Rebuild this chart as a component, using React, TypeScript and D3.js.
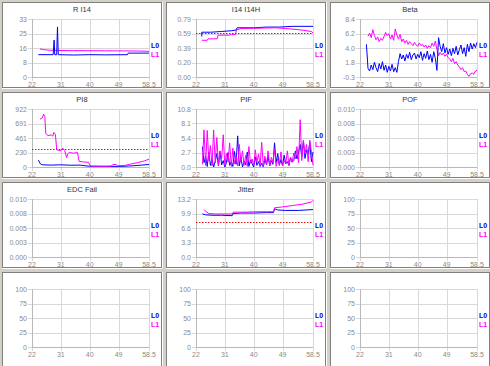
import React from "react";
import * as d3 from "d3";

// shared x axis
const xTicks = [22, 31, 40, 49, 58.5];
const xTickLabels = ["22", "31", "40", "49", "58.5"];

// R I14
const riL0X = [24, 28.6, 28.9, 29.1, 29.7, 29.95, 30.2, 35, 40, 45, 51.8, 52, 58.5];
const riL0Y = [12.7, 12.7, 21, 12.7, 12.7, 28.5, 12.7, 12.5, 12.7, 12.6, 12.7, 13.6, 13.6];
const riL1X = [24.5, 25.5, 27, 30, 35, 45, 55, 58.5];
const riL1Y = [16.0, 15.6, 15.3, 15.1, 15.0, 14.9, 14.8, 14.6];
const riTicks = ["0", "8", "16", "25", "33"];

// I14 I14H
const i14L0X = [23.8, 23.8, 26.6, 30, 33, 34.5, 34.8, 40, 44, 48, 52, 58.5];
const i14L0Y = [0.55, 0.61, 0.61, 0.62, 0.63, 0.64, 0.67, 0.67, 0.68, 0.68, 0.69, 0.69];
const i14L1X = [23.8, 25.5, 25.8, 28.6, 28.9, 32.5, 33, 34.3, 34.6, 36, 47, 50, 55, 58, 58.5];
const i14L1Y = [0.50, 0.50, 0.52, 0.52, 0.57, 0.57, 0.58, 0.58, 0.64, 0.66, 0.67, 0.66, 0.64, 0.62, 0.60];
const i14Limit = 0.6;
const i14Ticks = ["0.00", "0.20", "0.39", "0.59", "0.79"];

// Beta
const betaL0X = d3.range(24, 58.75, 0.5);
const betaL0Y = [
  4.6, 1.0, 0.6, 1.5, 0.8, 1.9, 1.1, 0.5, 1.7, 0.9,
  2.0, 0.7, 1.5, 0.4, 1.3, 0.6, 1.6, 0.5, 1.1, 0.4,
  2.0, 3.2, 2.4, 3.0, 2.1, 3.1, 2.5, 3.4, 2.3, 3.0,
  3.3, 2.4, 3.1, 2.6, 3.5, 2.2, 3.2, 2.5, 3.6, 2.3,
  3.1, 1.9, 3.5, 2.5, 0.7, 5.6, 4.3, 3.5, 4.7, 3.3,
  4.1, 3.1, 3.9, 2.9, 4.0, 3.2, 4.3, 3.0, 3.8, 4.5,
  3.2, 4.1, 2.8, 4.6, 3.5, 4.8, 3.9, 4.7, 4.1, 4.9,
];
const betaL1X = d3.range(24.5, 58.75, 0.5);
const betaL1Y = [
  5.8, 6.3, 5.6, 6.8, 5.9, 5.3, 5.7, 5.0, 5.5, 5.2,
  5.8, 6.4, 5.9, 6.2, 5.4, 6.0, 5.2, 6.9, 6.0, 5.4,
  6.1, 5.0, 5.4, 4.8, 5.2, 4.6, 5.0, 4.7, 4.4, 4.9,
  4.5, 4.3, 4.8, 4.4, 4.6, 4.2, 4.5, 4.0, 4.4, 4.1,
  4.8, 4.3, 5.1, 3.8, 2.9, 3.4, 3.0, 3.3, 2.8, 3.1,
  2.6, 2.4, 2.0, 2.5, 1.7, 2.0, 1.5, 1.2, 0.8, 1.1,
  0.5, 0.6, 0.1, -0.2, 0.2, 0.3, 0.1, 0.6, 0.7,
];
const betaTicks = ["-0.3", "1.8", "4.0", "6.2", "8.4"];

// PI8
const pi8L0X = [24, 24.6, 25.2, 28, 31, 34, 37, 38.5, 40, 45, 50, 52, 55, 58.5];
const pi8L0Y = [110, 50, 35, 30, 35, 28, 30, 20, 12, 10, 10, 15, 25, 40];
const pi8L1X = [24.5, 25.2, 25.6, 26.0, 26.3, 27, 28, 28.5, 28.8, 29.3, 29.7, 30, 31, 31.6, 32.2, 32.8, 33.2, 33.6, 35, 36.2, 36.7, 38, 39.6, 40.2, 44, 46.8, 47.2, 48.2, 48.6, 51, 53, 55, 57, 58.5];
const pi8L1Y = [760, 780, 840, 800, 530, 500, 510, 490, 550, 520, 280, 270, 260, 300, 260, 150, 210, 230, 220, 230, 90, 80, 75, 15, 12, 15, 40, 40, 20, 25, 50, 70, 95, 125];
const pi8Limit = 280;
const pi8Ticks = ["0", "230", "461", "691", "922"];

// PIF
const pifX = d3.range(24, 58.75, 0.5);
const pifL0Y = [
  3.8, 0.8, 2.0, 0.1, 2.8, 0.3, 1.5, 0.0, 1.0, 2.5,
  0.2, 2.9, 0.4, 1.2, 0.0, 0.8, 2.7, 0.3, 1.0, 0.1,
  2.9, 0.5, 5.8, 0.2, 1.8, 0.0, 1.1, 0.4, 2.8, 0.1,
  1.3, 0.6, 0.0, 1.9, 0.3, 1.0, 0.1, 0.7, 0.0, 1.5,
  0.4, 2.0, 0.2, 1.2, 0.5, 4.5, 0.8, 2.5, 0.3, 1.4,
  0.2, 2.2, 0.6, 1.0, 0.3, 1.8, 0.9, 1.2, 3.0, 1.5,
  2.8, 4.2, 2.0, 4.8, 1.6, 3.2, 2.4, 4.6, 1.0, 2.8,
];
const pifL1Y = [
  0.5, 6.9, 0.3, 6.8, 1.2, 4.0, 0.2, 6.9, 0.8, 5.5,
  0.3, 3.0, 1.5, 6.0, 0.2, 2.5, 0.9, 4.5, 0.1, 3.5,
  0.6, 2.0, 0.2, 4.2, 1.0, 3.0, 0.3, 2.2, 0.1, 3.8,
  0.7, 1.5, 0.2, 3.2, 0.9, 2.4, 0.3, 4.6, 0.1, 2.0,
  0.5, 3.0, 0.2, 1.8, 0.8, 3.4, 0.1, 1.6, 0.4, 2.8,
  0.2, 1.2, 0.6, 3.0, 0.3, 1.8, 0.9, 2.6, 1.5, 3.8,
  0.8, 8.8, 1.2, 5.0, 2.5, 4.2, 1.0, 5.0, 2.8, 0.3,
];
const pifTicks = ["0.0", "2.7", "5.4", "8.1", "10.8"];

// POF / EDC Fail (no data)
const smallTicks = ["0.000", "0.003", "0.005", "0.008", "0.010"];

// Jitter
const jitL0X = [24, 25, 27, 30, 33.3, 33.6, 36, 40, 44, 46.2, 46.5, 47.5, 50, 54, 58.5];
const jitL0Y = [9.8, 9.6, 9.5, 9.5, 9.4, 9.9, 10.0, 10.0, 10.1, 10.1, 11.0, 10.7, 10.6, 10.6, 10.8];
const jitL1X = [24.5, 25, 26, 28, 31, 33.3, 33.6, 37, 41, 46.2, 46.5, 49, 52, 55, 58, 58.5];
const jitL1Y = [10.8, 10.4, 9.9, 9.8, 9.8, 9.8, 10.2, 10.2, 10.3, 10.3, 11.2, 11.4, 11.7, 12.0, 12.5, 12.9];
const jitLimit = 7.9;
const jitTicks = ["0.0", "3.3", "6.6", "9.9", "13.2"];

const pctTicks = ["0", "25", "50", "75", "100"];

const BLUE = "#0000ff";
const PINK = "#ff00ff";

interface Series { x: number[]; y: number[]; color: string; }
interface PanelSpec {
  title: string;
  yMin: number;
  yMax: number;
  yLabels: string[];
  series: Series[];
  limit?: number;
}

const panels: PanelSpec[] = [
  { title: "R I14", yMin: 0, yMax: 33, yLabels: riTicks,
    series: [{ x: riL1X, y: riL1Y, color: PINK }, { x: riL0X, y: riL0Y, color: BLUE }] },
  { title: "I14 I14H", yMin: 0, yMax: 0.79, yLabels: i14Ticks, limit: i14Limit,
    series: [{ x: i14L0X, y: i14L0Y, color: BLUE }, { x: i14L1X, y: i14L1Y, color: PINK }] },
  { title: "Beta", yMin: -0.3, yMax: 8.4, yLabels: betaTicks,
    series: [{ x: betaL1X, y: betaL1Y, color: PINK }, { x: betaL0X, y: betaL0Y, color: BLUE }] },
  { title: "PI8", yMin: 0, yMax: 922, yLabels: pi8Ticks, limit: pi8Limit,
    series: [{ x: pi8L0X, y: pi8L0Y, color: BLUE }, { x: pi8L1X, y: pi8L1Y, color: PINK }] },
  { title: "PIF", yMin: 0, yMax: 10.8, yLabels: pifTicks,
    series: [{ x: pifX, y: pifL0Y, color: BLUE }, { x: pifX, y: pifL1Y, color: PINK }] },
  { title: "POF", yMin: 0, yMax: 0.01, yLabels: smallTicks, series: [] },
  { title: "EDC Fail", yMin: 0, yMax: 0.01, yLabels: smallTicks, series: [] },
  { title: "Jitter", yMin: 0, yMax: 13.2, yLabels: jitTicks, limit: jitLimit,
    series: [{ x: jitL0X, y: jitL0Y, color: BLUE }, { x: jitL1X, y: jitL1Y, color: PINK }] },
  { title: "", yMin: 0, yMax: 100, yLabels: pctTicks, series: [] },
  { title: "", yMin: 0, yMax: 100, yLabels: pctTicks, series: [] },
  { title: "", yMin: 0, yMax: 100, yLabels: pctTicks, series: [] },
  { title: "", yMin: 0, yMax: 100, yLabels: pctTicks, series: [] },
];

const colX = [2, 166, 330];
const rowY = [2, 92, 182, 272];
const panelW = 160;

function Panel({ spec, px, py, h }: { spec: PanelSpec; px: number; py: number; h: number }) {
  const left = 30, right = 147, top = 17, bottom = 75;
  const xs = d3.scaleLinear().domain([22, 58.5]).range([left, right]);
  const ys = d3.scaleLinear().domain([spec.yMin, spec.yMax]).range([bottom, top]);
  const yTicks = d3.range(5).map(i => spec.yMin + (i * (spec.yMax - spec.yMin)) / 4);
  const crisp = (v: number) => Math.round(v) + 0.5;

  return (
    <g transform={`translate(${px},${py})`}>
      <rect x={0.5} y={0.5} width={panelW - 1} height={h - 1} fill="#ffffff" stroke="#808080" />
      <line x1={panelW + 0.5} y1={0} x2={panelW + 0.5} y2={h} stroke="#ffffff" />
      <line x1={0} y1={h + 0.5} x2={panelW} y2={h + 0.5} stroke="#ffffff" />
      <text x={panelW / 2} y={10} textAnchor="middle" fontSize={7.5} fill="#333333">{spec.title}</text>
      {yTicks.map((t, i) => (
        <g key={"y" + i}>
          <line x1={left - 4} x2={right} y1={crisp(ys(t))} y2={crisp(ys(t))} stroke="#d8d8d8" />
          <text x={left - 5} y={ys(t) + 2.5} textAnchor="end" fontSize={7} fill="#8a8a8a">{spec.yLabels[i]}</text>
        </g>
      ))}
      {xTicks.map((t, i) => (
        <g key={"x" + i}>
          <line x1={crisp(xs(t))} x2={crisp(xs(t))} y1={top} y2={bottom + 4} stroke="#d8d8d8" />
          <text x={xs(t)} y={bottom + 10} textAnchor="middle" fontSize={7} fill="#8a8a8a">{xTickLabels[i]}</text>
        </g>
      ))}
      <line x1={crisp(left)} x2={crisp(left)} y1={top} y2={bottom} stroke="#b8b8b8" />
      <line x1={left} x2={right} y1={crisp(bottom)} y2={crisp(bottom)} stroke="#b8b8b8" />
      {spec.series.map((s, i) => {
        const path = d3.line<number>()
          .x((_, k) => xs(s.x[k]))
          .y(v => ys(v))(s.y);
        return <path key={"s" + i} d={path ?? ""} fill="none" stroke={s.color} strokeWidth={1} />;
      })}
      {spec.limit !== undefined && (
        <line x1={left} x2={right} y1={crisp(ys(spec.limit))} y2={crisp(ys(spec.limit))}
          stroke="#ee1111" strokeDasharray="1.5,1.5" />
      )}
      <text x={149} y={46} fontSize={7} fontWeight="bold" fill="#0000cc">L0</text>
      <text x={149} y={55} fontSize={7} fontWeight="bold" fill="#ff00ff">L1</text>
    </g>
  );
}

export default function App() {
  return (
    <svg width={490} height={366}
      style={{ position: "absolute", left: 0, top: 0, fontFamily: "'Liberation Sans', Arial, sans-serif" }}>
      <rect width={490} height={366} fill="#d4d0c8" />
      {panels.map((p, i) => (
        <Panel key={i} spec={p} px={colX[i % 3]} py={rowY[Math.floor(i / 3)]}
          h={Math.floor(i / 3) === 3 ? 96 : 86} />
      ))}
    </svg>
  );
}
